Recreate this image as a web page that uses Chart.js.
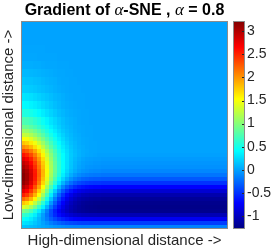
<!DOCTYPE html>
<html>
<head>
<meta charset="utf-8">
<script src="https://cdn.jsdelivr.net/npm/chart.js@4.4.1/dist/chart.umd.min.js"></script>
<style>
    html, body { margin: 0; padding: 0; background: #fff; }
</style>
</head>
<body>
<canvas id="chart" width="274" height="250"></canvas>
<script>
// cell edges in axis units: high-dimensional distance (left to right),
// low-dimensional distance (top to bottom); finer cells where the gradient changes fast
const highDistEdges = [0, 0.5, 1, 1.5, 2, 2.5, 3, 3.5, 4, 4.5, 5, 5.5, 6, 6.5, 7, 7.5, 8, 8.5, 9, 9.5, 10, 14, 18, 22, 26];
const lowDistEdges = [26, 25, 24, 23, 22, 21, 20, 19, 18, 17, 16, 15, 14, 13,
    12.5, 12, 11.5, 11, 10.5, 10, 9.5, 9, 8.5, 8, 7.5, 7, 6.5, 6, 5.5, 5, 4.5, 4, 3.5, 3, 2.5, 2, 1.5, 1, 0.5, 0];

// gradient values, upper (far) part
const gradientFar = [
    [0, 0, 0, 0, 0, 0, 0, 0, 0, 0, 0, 0, 0, 0, 0, 0, 0, 0, 0, 0, 0, 0, 0, 0],
    [0, 0, 0, 0, 0, 0, 0, 0, 0, 0, 0, 0, 0, 0, 0, 0, 0, 0, 0, 0, 0, 0, 0, 0],
    [0, 0, 0, 0, 0, 0, 0, 0, 0, 0, 0, 0, 0, 0, 0, 0, 0, 0, 0, 0, 0, 0, 0, 0],
    [0.01, 0.01, 0.01, 0.01, 0.01, 0.01, 0, 0, 0, 0, 0, 0, 0, 0, 0, 0, 0, 0, 0, 0, 0, 0, 0, 0],
    [0.02, 0.02, 0.02, 0.02, 0.01, 0.01, 0.01, 0.01, 0.01, 0, 0, 0, 0, 0, 0, 0, 0, 0, 0, 0, 0, 0, 0, 0],
    [0.05, 0.05, 0.05, 0.04, 0.04, 0.03, 0.02, 0.02, 0.02, 0.01, 0.01, 0.01, 0, 0, 0, 0, 0, 0, 0, 0, 0, 0, 0, 0],
    [0.10, 0.10, 0.09, 0.08, 0.07, 0.06, 0.05, 0.04, 0.03, 0.02, 0.02, 0.01, 0.01, 0, 0, 0, 0, 0, 0, 0, 0, 0, 0, 0],
    [0.15, 0.14, 0.14, 0.12, 0.11, 0.09, 0.07, 0.06, 0.05, 0.03, 0.02, 0.02, 0.01, 0.01, 0, 0, 0, 0, 0, 0, 0, 0, 0, 0],
    [0.20, 0.19, 0.18, 0.16, 0.14, 0.12, 0.10, 0.08, 0.06, 0.04, 0.03, 0.02, 0.01, 0.01, 0.01, 0, 0, 0, 0, 0, 0, 0, 0, 0],
    [0.30, 0.29, 0.27, 0.24, 0.21, 0.18, 0.15, 0.12, 0.09, 0.07, 0.05, 0.03, 0.02, 0.01, 0.01, 0.01, 0, 0, 0, 0, 0, 0, 0, 0],
    [0.40, 0.39, 0.36, 0.33, 0.29, 0.24, 0.20, 0.16, 0.12, 0.09, 0.06, 0.04, 0.03, 0.02, 0.01, 0.01, 0, 0, 0, 0, 0, 0, 0, 0],
    [0.55, 0.53, 0.50, 0.45, 0.39, 0.33, 0.27, 0.22, 0.17, 0.12, 0.09, 0.06, 0.04, 0.03, 0.02, 0.01, 0.01, 0, 0, 0, 0, 0, 0, 0],
    [0.75, 0.72, 0.68, 0.61, 0.54, 0.45, 0.37, 0.29, 0.23, 0.17, 0.12, 0.08, 0.06, 0.04, 0.02, 0.01, 0.01, 0, 0, 0, 0, 0, 0, 0],
];

// lower (near) part, peak on the left and the negative band at the bottom
const gradientNear = [
    [0.90, 0.87, 0.81, 0.73, 0.64, 0.54, 0.45, 0.35, 0.27, 0.20, 0.14, 0.10, 0.07, 0.04, 0.03, 0.02, 0.01, 0.01, 0, 0, 0, 0, 0, 0],
    [1.10, 1.06, 0.99, 0.90, 0.79, 0.66, 0.54, 0.43, 0.33, 0.24, 0.17, 0.12, 0.08, 0.05, 0.03, 0.02, 0.01, 0.01, 0, 0, 0, 0, 0, 0],
    [1.29, 1.25, 1.17, 1.06, 0.93, 0.79, 0.64, 0.51, 0.39, 0.29, 0.21, 0.14, 0.10, 0.06, 0.04, 0.02, 0.01, 0.01, 0, 0, 0, 0, 0, 0],
    [1.54, 1.49, 1.40, 1.26, 1.11, 0.94, 0.77, 0.61, 0.47, 0.34, 0.25, 0.17, 0.11, 0.07, 0.05, 0.03, 0.02, 0.01, 0, 0, 0, 0, 0, 0],
    [1.79, 1.73, 1.62, 1.47, 1.29, 1.09, 0.89, 0.71, 0.54, 0.40, 0.29, 0.20, 0.13, 0.09, 0.05, 0.03, 0.02, 0.01, 0.01, 0, 0, 0, 0, 0],
    [2.04, 1.97, 1.85, 1.67, 1.46, 1.24, 1.01, 0.80, 0.62, 0.46, 0.33, 0.23, 0.15, 0.10, 0.06, 0.04, 0.02, 0.01, 0.01, 0, 0, 0, 0, 0],
    [2.34, 2.26, 2.12, 1.92, 1.68, 1.42, 1.16, 0.92, 0.71, 0.52, 0.37, 0.26, 0.17, 0.11, 0.07, 0.04, 0.03, 0.01, 0.01, 0, 0, 0, 0, 0],
    [2.59, 2.50, 2.34, 2.12, 1.85, 1.57, 1.28, 1.01, 0.77, 0.57, 0.41, 0.28, 0.18, 0.12, 0.07, 0.04, 0.02, 0.01, 0, -0.01, -0.01, -0.01, -0.01, -0.01],
    [2.79, 2.69, 2.52, 2.27, 1.99, 1.68, 1.37, 1.07, 0.81, 0.59, 0.41, 0.28, 0.17, 0.10, 0.05, 0.01, -0.01, -0.02, -0.03, -0.03, -0.04, -0.04, -0.04, -0.04],
    [2.94, 2.84, 2.65, 2.39, 2.09, 1.76, 1.43, 1.12, 0.84, 0.61, 0.42, 0.27, 0.16, 0.08, 0.03, -0.01, -0.03, -0.04, -0.05, -0.05, -0.06, -0.06, -0.06, -0.06],
    [3.04, 2.93, 2.74, 2.47, 2.15, 1.81, 1.47, 1.15, 0.86, 0.61, 0.42, 0.27, 0.15, 0.07, 0.01, -0.02, -0.05, -0.06, -0.07, -0.07, -0.08, -0.08, -0.08, -0.08],
    [3.14, 3.03, 2.83, 2.55, 2.21, 1.86, 1.50, 1.16, 0.86, 0.61, 0.40, 0.24, 0.12, 0.04, -0.02, -0.06, -0.08, -0.10, -0.11, -0.11, -0.12, -0.12, -0.12, -0.12],
    [3.19, 3.07, 2.86, 2.57, 2.23, 1.85, 1.48, 1.13, 0.82, 0.56, 0.34, 0.18, 0.05, -0.04, -0.10, -0.14, -0.16, -0.18, -0.19, -0.19, -0.20, -0.20, -0.20, -0.20],
    [3.19, 3.07, 2.85, 2.55, 2.19, 1.80, 1.42, 1.05, 0.73, 0.45, 0.23, 0.06, -0.07, -0.16, -0.22, -0.27, -0.29, -0.31, -0.32, -0.32, -0.33, -0.33, -0.33, -0.33],
    [3.14, 3.02, 2.79, 2.48, 2.11, 1.71, 1.31, 0.93, 0.60, 0.31, 0.08, -0.10, -0.23, -0.33, -0.39, -0.43, -0.46, -0.48, -0.49, -0.49, -0.50, -0.50, -0.50, -0.50],
    [2.99, 2.86, 2.63, 2.31, 1.94, 1.53, 1.12, 0.74, 0.40, 0.11, -0.13, -0.31, -0.44, -0.54, -0.61, -0.65, -0.68, -0.70, -0.71, -0.71, -0.72, -0.72, -0.72, -0.72],
    [2.79, 2.66, 2.43, 2.11, 1.74, 1.33, 0.92, 0.54, 0.20, -0.09, -0.33, -0.51, -0.64, -0.74, -0.81, -0.85, -0.88, -0.90, -0.91, -0.91, -0.92, -0.92, -0.92, -0.92],
    [2.54, 2.42, 2.19, 1.88, 1.51, 1.11, 0.72, 0.34, 0.01, -0.27, -0.50, -0.68, -0.81, -0.91, -0.97, -1.02, -1.04, -1.06, -1.07, -1.07, -1.08, -1.08, -1.08, -1.08],
    [2.19, 2.08, 1.87, 1.58, 1.24, 0.87, 0.50, 0.15, -0.16, -0.42, -0.63, -0.80, -0.92, -1.01, -1.07, -1.11, -1.13, -1.15, -1.16, -1.16, -1.17, -1.17, -1.17, -1.17],
    [1.79, 1.69, 1.50, 1.24, 0.94, 0.60, 0.28, -0.04, -0.31, -0.55, -0.74, -0.89, -1.00, -1.08, -1.13, -1.17, -1.19, -1.20, -1.21, -1.21, -1.22, -1.22, -1.22, -1.22],
    [1.39, 1.30, 1.14, 0.91, 0.65, 0.36, 0.07, -0.21, -0.45, -0.65, -0.82, -0.95, -1.05, -1.11, -1.16, -1.19, -1.21, -1.22, -1.23, -1.24, -1.24, -1.24, -1.24, -1.24],
    [0.94, 0.87, 0.74, 0.55, 0.33, 0.09, -0.15, -0.37, -0.57, -0.74, -0.88, -0.98, -1.06, -1.12, -1.16, -1.18, -1.20, -1.21, -1.21, -1.22, -1.22, -1.22, -1.22, -1.22],
    [0.64, 0.59, 0.48, 0.34, 0.16, -0.02, -0.21, -0.38, -0.54, -0.67, -0.78, -0.86, -0.92, -0.97, -1.00, -1.02, -1.03, -1.04, -1.04, -1.05, -1.05, -1.05, -1.05, -1.05],
    [0.45, 0.40, 0.33, 0.22, 0.10, -0.04, -0.17, -0.30, -0.41, -0.51, -0.58, -0.64, -0.69, -0.72, -0.74, -0.76, -0.77, -0.77, -0.78, -0.78, -0.78, -0.78, -0.78, -0.78],
    [0.30, 0.27, 0.23, 0.16, 0.09, 0.00, -0.08, -0.16, -0.23, -0.28, -0.33, -0.37, -0.39, -0.41, -0.43, -0.44, -0.44, -0.45, -0.45, -0.45, -0.45, -0.45, -0.45, -0.45],
    [0.15, 0.14, 0.12, 0.10, 0.06, 0.03, 0.00, -0.03, -0.06, -0.08, -0.10, -0.12, -0.13, -0.14, -0.14, -0.15, -0.15, -0.15, -0.15, -0.15, -0.15, -0.15, -0.15, -0.15],
];

const colorMin = -1.28;
const colorMax = 3.22;
const colorTicks = [-1, -0.5, 0, 0.5, 1, 1.5, 2, 2.5, 3];

const titleParts = [
    { text: 'Gradient of ', greek: false },
    { text: 'α', greek: true },
    { text: '-SNE , ', greek: false },
    { text: 'α', greek: true },
    { text: ' = 0.8', greek: false },
];

const gradient = gradientFar.concat(gradientNear);
const xMax = highDistEdges[highDistEdges.length - 1];
const yMax = lowDistEdges[0];

// matlab style jet colormap
function jet(v) {
    const t = Math.min(1, Math.max(0, (v - colorMin) / (colorMax - colorMin)));
    const f = k => Math.round(255 * Math.min(1, Math.max(0, 1.5 - Math.abs(4 * t - k))));
    return `rgb(${f(3)},${f(2)},${f(1)})`;
}

const heatmapPlugin = {
    id: 'heatmap',
    beforeDatasetsDraw(chart) {
        const { ctx, scales: { x, y } } = chart;
        ctx.save();
        gradient.forEach((row, r) => {
            const y0 = Math.round(y.getPixelForValue(lowDistEdges[r]));
            const y1 = Math.round(y.getPixelForValue(lowDistEdges[r + 1]));
            row.forEach((v, c) => {
                const x0 = Math.round(x.getPixelForValue(highDistEdges[c]));
                const x1 = Math.round(x.getPixelForValue(highDistEdges[c + 1]));
                ctx.fillStyle = jet(v);
                ctx.fillRect(x0, y0, x1 - x0, y1 - y0);
            });
        });
        ctx.restore();
    },
    afterDraw(chart) {
        const { ctx, chartArea: area } = chart;
        const cb = chart.scales.cb;
        ctx.save();

        // plot frame
        ctx.strokeStyle = '#8c8c8c';
        ctx.lineWidth = 1;
        ctx.strokeRect(area.left + 0.5, area.top + 0.5, area.width - 1, area.height - 1);

        // colorbar
        const cbLeft = Math.round(area.right + 5);
        const cbWidth = 12;
        const cbTop = Math.round(cb.getPixelForValue(colorMax));
        const cbBottom = Math.round(cb.getPixelForValue(colorMin));
        for (let py = cbTop; py < cbBottom; py++) {
            ctx.fillStyle = jet(cb.getValueForPixel(py + 0.5));
            ctx.fillRect(cbLeft, py, cbWidth, 1);
        }
        ctx.strokeRect(cbLeft + 0.5, cbTop + 0.5, cbWidth - 1, cbBottom - cbTop - 1);
        ctx.strokeStyle = '#262626';
        colorTicks.forEach(t => {
            const py = Math.round(cb.getPixelForValue(t)) + 0.5;
            ctx.beginPath();
            ctx.moveTo(cbLeft + cbWidth - 3, py);
            ctx.lineTo(cbLeft + cbWidth - 1, py);
            ctx.stroke();
        });

        // title, centred over the plot, greek letters in italic serif
        const boldFont = 'bold 16px "Liberation Sans", Arial, sans-serif';
        const greekFont = 'italic 17px "Liberation Serif", "Times New Roman", serif';
        let total = 0;
        titleParts.forEach(p => {
            ctx.font = p.greek ? greekFont : boldFont;
            total += ctx.measureText(p.text).width;
        });
        let tx = (area.left + area.right) / 2 - total / 2;
        ctx.fillStyle = '#000';
        ctx.textBaseline = 'alphabetic';
        titleParts.forEach(p => {
            ctx.font = p.greek ? greekFont : boldFont;
            ctx.fillText(p.text, tx, 15);
            tx += ctx.measureText(p.text).width;
        });
        ctx.restore();
    }
};

const axisTitleFont = { family: '"Liberation Sans", Arial, sans-serif', size: 15, lineHeight: 1.2 };

new Chart(document.getElementById('chart'), {
    type: 'scatter',
    data: { datasets: [{ data: [], pointRadius: 0 }] },
    options: {
        responsive: false,
        devicePixelRatio: 1,
        animation: false,
        layout: { padding: { top: 21, right: 3, bottom: 0, left: 0 } },
        plugins: {
            legend: { display: false },
            tooltip: { enabled: false },
            title: { display: false },
        },
        scales: {
            x: {
                type: 'linear',
                min: 0,
                max: xMax,
                grid: { display: false, drawTicks: false },
                border: { display: false },
                ticks: { display: false },
                title: {
                    display: true,
                    text: 'High-dimensional distance ->',
                    color: '#262626',
                    font: axisTitleFont,
                    padding: { top: 3, bottom: 0 },
                },
            },
            y: {
                type: 'linear',
                min: 0,
                max: yMax,
                grid: { display: false, drawTicks: false },
                border: { display: false },
                ticks: { display: false },
                title: {
                    display: true,
                    text: 'Low-dimensional distance ->',
                    color: '#262626',
                    font: axisTitleFont,
                    padding: { top: 0, bottom: 3 },
                },
            },
            cb: {
                type: 'linear',
                position: 'right',
                min: colorMin,
                max: colorMax,
                grid: { display: false, drawTicks: true, tickLength: 19 },
                border: { display: false },
                afterBuildTicks: axis => {
                    axis.ticks = colorTicks.map(v => ({ value: v }));
                },
                afterFit: axis => {
                    axis.width = 43;
                },
                ticks: {
                    padding: 0,
                    color: '#262626',
                    font: { family: '"Liberation Sans", Arial, sans-serif', size: 14 },
                    callback: v => String(v),
                },
            },
        },
    },
    plugins: [heatmapPlugin],
});
</script>
</body>
</html>
